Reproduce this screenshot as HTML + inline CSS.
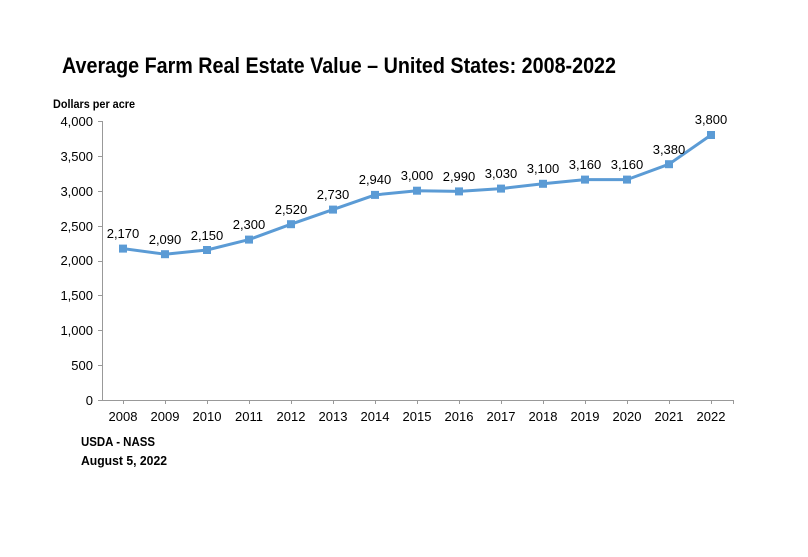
<!DOCTYPE html>
<html><head><meta charset="utf-8"><style>
body{margin:0;background:#fff;}
svg text{font-family:"Liberation Sans",Arial,sans-serif;fill:#000;}
</style></head><body>
<svg width="808" height="552" xmlns="http://www.w3.org/2000/svg">
<rect width="808" height="552" fill="#fff"/>
<text x="62" y="73" font-size="22" font-weight="bold" textLength="554" lengthAdjust="spacingAndGlyphs">Average Farm Real Estate Value – United States: 2008-2022</text>
<text x="53" y="108" font-size="12" font-weight="bold" textLength="82" lengthAdjust="spacingAndGlyphs">Dollars per acre</text>
<g stroke="#999" stroke-width="1" fill="none">
<line x1="102.5" y1="121" x2="102.5" y2="400"/>
<line x1="102" y1="400.5" x2="734" y2="400.5"/>
<line x1="98" y1="121.5" x2="102" y2="121.5"/>
<line x1="98" y1="156.5" x2="102" y2="156.5"/>
<line x1="98" y1="191.5" x2="102" y2="191.5"/>
<line x1="98" y1="226.5" x2="102" y2="226.5"/>
<line x1="98" y1="261.5" x2="102" y2="261.5"/>
<line x1="98" y1="295.5" x2="102" y2="295.5"/>
<line x1="98" y1="330.5" x2="102" y2="330.5"/>
<line x1="98" y1="365.5" x2="102" y2="365.5"/>
<line x1="98" y1="400.5" x2="102" y2="400.5"/>
</g>
<g font-size="13" text-anchor="end">
<text x="93" y="126">4,000</text><text x="93" y="161">3,500</text><text x="93" y="196">3,000</text>
<text x="93" y="231">2,500</text><text x="93" y="265">2,000</text><text x="93" y="300">1,500</text>
<text x="93" y="335">1,000</text><text x="93" y="370">500</text><text x="93" y="405">0</text>
</g>
<g stroke="#999">
<line x1="123.5" y1="400" x2="123.5" y2="404"/><line x1="165.5" y1="400" x2="165.5" y2="404"/>
<line x1="207.5" y1="400" x2="207.5" y2="404"/><line x1="249.5" y1="400" x2="249.5" y2="404"/>
<line x1="291.5" y1="400" x2="291.5" y2="404"/><line x1="333.5" y1="400" x2="333.5" y2="404"/>
<line x1="375.5" y1="400" x2="375.5" y2="404"/><line x1="417.5" y1="400" x2="417.5" y2="404"/>
<line x1="459.5" y1="400" x2="459.5" y2="404"/><line x1="501.5" y1="400" x2="501.5" y2="404"/>
<line x1="543.5" y1="400" x2="543.5" y2="404"/><line x1="585.5" y1="400" x2="585.5" y2="404"/>
<line x1="627.5" y1="400" x2="627.5" y2="404"/><line x1="669.5" y1="400" x2="669.5" y2="404"/>
<line x1="711.5" y1="400" x2="711.5" y2="404"/><line x1="733.5" y1="400" x2="733.5" y2="404"/>
</g>
<g font-size="13" text-anchor="middle">
<text x="123" y="421">2008</text><text x="165" y="421">2009</text><text x="207" y="421">2010</text>
<text x="249" y="421">2011</text><text x="291" y="421">2012</text><text x="333" y="421">2013</text>
<text x="375" y="421">2014</text><text x="417" y="421">2015</text><text x="459" y="421">2016</text>
<text x="501" y="421">2017</text><text x="543" y="421">2018</text><text x="585" y="421">2019</text>
<text x="627" y="421">2020</text><text x="669" y="421">2021</text><text x="711" y="421">2022</text>
</g>
<polyline fill="none" stroke="#5b9bd5" stroke-width="3" stroke-linejoin="round"
points="123,248.6 165,254.2 207,250 249,239.6 291,224.2 333,209.6 375,194.9 417,190.7 459,191.4 501,188.6 543,183.8 585,179.6 627,179.6 669,164.2 711,135"/>
<g fill="#5b9bd5">
<rect x="119" y="244.6" width="8" height="8"/><rect x="161" y="250.2" width="8" height="8"/>
<rect x="203" y="246" width="8" height="8"/><rect x="245" y="235.6" width="8" height="8"/>
<rect x="287" y="220.2" width="8" height="8"/><rect x="329" y="205.6" width="8" height="8"/>
<rect x="371" y="190.9" width="8" height="8"/><rect x="413" y="186.7" width="8" height="8"/>
<rect x="455" y="187.4" width="8" height="8"/><rect x="497" y="184.6" width="8" height="8"/>
<rect x="539" y="179.8" width="8" height="8"/><rect x="581" y="175.6" width="8" height="8"/>
<rect x="623" y="175.6" width="8" height="8"/><rect x="665" y="160.2" width="8" height="8"/>
<rect x="707" y="131" width="8" height="8"/>
</g>
<g font-size="13" text-anchor="middle">
<text x="123" y="238">2,170</text><text x="165" y="244">2,090</text><text x="207" y="240">2,150</text>
<text x="249" y="229">2,300</text><text x="291" y="214">2,520</text><text x="333" y="199">2,730</text>
<text x="375" y="184">2,940</text><text x="417" y="180">3,000</text><text x="459" y="181">2,990</text>
<text x="501" y="178">3,030</text><text x="543" y="173">3,100</text><text x="585" y="169">3,160</text>
<text x="627" y="169">3,160</text><text x="669" y="154">3,380</text><text x="711" y="124">3,800</text>
</g>
<text x="81" y="446" font-size="13" font-weight="bold" textLength="74" lengthAdjust="spacingAndGlyphs">USDA - NASS</text>
<text x="81" y="465" font-size="13" font-weight="bold" textLength="86" lengthAdjust="spacingAndGlyphs">August 5, 2022</text>
</svg>
</body></html>
